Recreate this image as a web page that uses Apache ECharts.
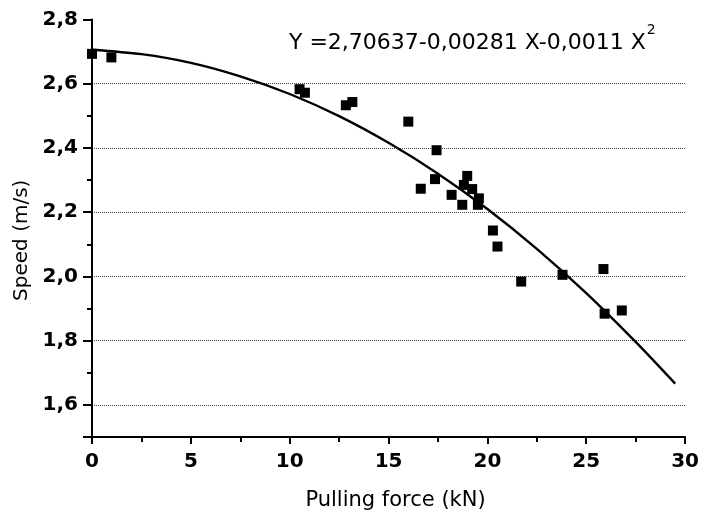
<!DOCTYPE html>
<html>
<head>
<meta charset="utf-8">
<script src="https://cdn.jsdelivr.net/npm/echarts@6/dist/echarts.min.js"></script>
<style>
html,body{margin:0;padding:0;background:#fff;}
#chart{width:702px;height:516px;}
</style>
</head>
<body>
<div id="chart"></div>
<script>
// Measured points: pulling force (kN) and speed (m/s)
var forceX = [0, 0.98, 10.5, 10.77, 12.84, 13.17, 16.0, 16.63, 17.35, 17.43, 18.19, 18.73, 18.81, 18.98, 19.23, 19.52, 19.57, 20.28, 20.51, 21.71, 23.8, 25.87, 25.93, 26.8];
var speedY = [2.693, 2.682, 2.583, 2.572, 2.533, 2.543, 2.482, 2.273, 2.303, 2.393, 2.254, 2.223, 2.285, 2.313, 2.272, 2.223, 2.243, 2.143, 2.093, 1.984, 2.005, 2.023, 1.884, 1.894];

// Fitted curve
var curveX = [0, 2.5, 5, 7.5, 10, 12.5, 15, 17.5, 20, 22.5, 25, 27.5, 29.5];
var curveY = [2.706, 2.692, 2.665, 2.623, 2.568, 2.499, 2.416, 2.320, 2.210, 2.086, 1.948, 1.796, 1.666];

var equationMain = 'Y =2,70637-0,00281 X-0,0011 X';
var equationSup = '2';
var xName = 'Pulling force (kN)';
var yName = 'Speed (m/s)';

var scatterData = forceX.map(function (x, i) { return [x, speedY[i]]; });
var curveData = curveX.map(function (x, i) { return [x, curveY[i]]; });

var chart = echarts.init(document.getElementById('chart'), null, {renderer: 'canvas'});
chart.setOption({
  animation: false,
  backgroundColor: '#ffffff',
  grid: {left: 92, right: 15, top: 19.5, bottom: 79, containLabel: false},
  xAxis: {
    type: 'value', min: 0, max: 30, interval: 5,
    name: xName, nameLocation: 'middle', nameGap: 53,
    nameTextStyle: {fontFamily: 'DejaVu Sans', fontSize: 21, color: '#000', padding: [0, 0, 0, 14]},
    axisLine: {show: true, onZero: false, lineStyle: {color: '#000', width: 2}},
    axisTick: {show: true, inside: false, length: 7, lineStyle: {color: '#000', width: 2}},
    minorTick: {show: true, splitNumber: 2, length: 5, lineStyle: {color: '#000', width: 2}},
    axisLabel: {fontFamily: 'DejaVu Sans', fontWeight: 'bold', fontSize: 20, color: '#000', margin: 15},
    splitLine: {show: false}
  },
  yAxis: {
    type: 'value', min: 1.5, max: 2.8, splitNumber: 7,
    name: yName, nameLocation: 'middle', nameGap: 60,
    nameTextStyle: {fontFamily: 'DejaVu Sans', fontSize: 20, color: '#000', padding: [0, 24, 0, 0]},
    axisLine: {show: true, onZero: false, lineStyle: {color: '#000', width: 2}},
    axisTick: {show: true, inside: false, length: 9, lineStyle: {color: '#000', width: 2}},
    minorTick: {show: true, splitNumber: 2, length: 5, lineStyle: {color: '#000', width: 2}},
    axisLabel: {
      fontFamily: 'DejaVu Sans', fontWeight: 'bold', fontSize: 20, color: '#000', margin: 14,
      formatter: function (v) {
        if (Math.abs(v - 1.5) < 1e-6) return '';
        return v.toFixed(1).replace('.', ',');
      }
    },
    splitLine: {show: true, showMinLine: false, showMaxLine: false, lineStyle: {color: '#444', width: 1, type: 'dotted'}}
  },
  graphic: [{
    type: 'text', left: 289, top: 20, z: 100,
    style: {
      text: '{a|' + equationMain + '}{s|' + equationSup + '}',
      rich: {
        a: {fontFamily: 'DejaVu Sans', fontSize: 22, fill: '#000', lineHeight: 34, verticalAlign: 'bottom'},
        s: {fontFamily: 'DejaVu Sans', fontSize: 14, fill: '#000', lineHeight: 14, verticalAlign: 'top', padding: [3, 0, 0, 1]}
      }
    }
  }],
  series: [{
    type: 'line', data: curveData, smooth: 0.3, showSymbol: false, symbol: 'none',
    lineStyle: {color: '#000', width: 2.4}, z: 2, silent: true
  }, {
    type: 'scatter', data: scatterData, symbol: 'rect', symbolSize: 10, clip: false,
    itemStyle: {color: '#000', opacity: 1}, z: 3, silent: true
  }]
});
</script>
</body>
</html>
